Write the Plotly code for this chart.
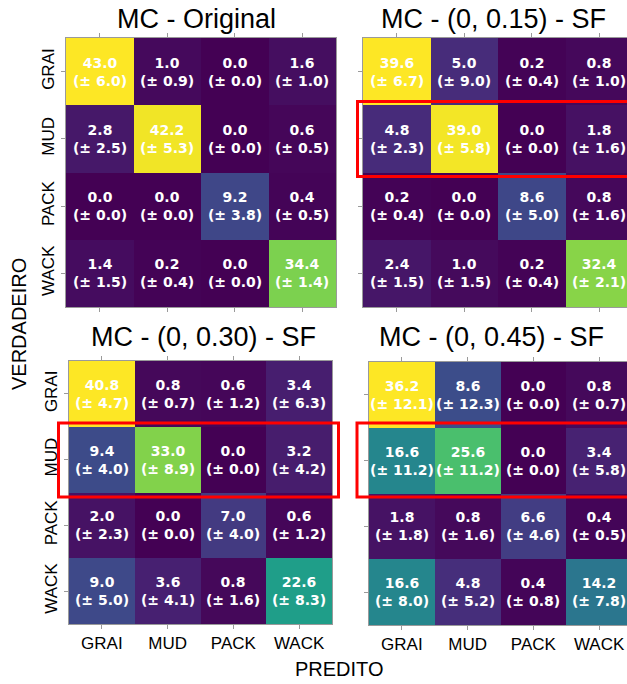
import plotly.graph_objects as go

categories = ["GRAI", "MUD", "PACK", "WACK"]

titles = ["MC - Original", "MC - (0, 0.15) - SF", "MC - (0, 0.30) - SF", "MC - (0, 0.45) - SF"]

orig_mean = [[43.0, 1.0, 0.0, 1.6], [2.8, 42.2, 0.0, 0.6], [0.0, 0.0, 9.2, 0.4], [1.4, 0.2, 0.0, 34.4]]
orig_std = [[6.0, 0.9, 0.0, 1.0], [2.5, 5.3, 0.0, 0.5], [0.0, 0.0, 3.8, 0.5], [1.5, 0.4, 0.0, 1.4]]

sf15_mean = [[39.6, 5.0, 0.2, 0.8], [4.8, 39.0, 0.0, 1.8], [0.2, 0.0, 8.6, 0.8], [2.4, 1.0, 0.2, 32.4]]
sf15_std = [[6.7, 9.0, 0.4, 1.0], [2.3, 5.8, 0.0, 1.6], [0.4, 0.0, 5.0, 1.6], [1.5, 1.5, 0.4, 2.1]]

sf30_mean = [[40.8, 0.8, 0.6, 3.4], [9.4, 33.0, 0.0, 3.2], [2.0, 0.0, 7.0, 0.6], [9.0, 3.6, 0.8, 22.6]]
sf30_std = [[4.7, 0.7, 1.2, 6.3], [4.0, 8.9, 0.0, 4.2], [2.3, 0.0, 4.0, 1.2], [5.0, 4.1, 1.6, 8.3]]

sf45_mean = [[36.2, 8.6, 0.0, 0.8], [16.6, 25.6, 0.0, 3.4], [1.8, 0.8, 6.6, 0.4], [16.6, 4.8, 0.4, 14.2]]
sf45_std = [[12.1, 12.3, 0.0, 0.7], [11.2, 11.2, 0.0, 5.8], [1.8, 1.6, 4.6, 0.5], [8.0, 5.2, 0.8, 7.8]]

W, H = 627, 684

def px_x(v):
    return v / W

def px_y(v):
    return 1 - v / H

# panel layout in pixels: (left, right_visible, full_right, top, bottom)
panels = [
    (66, 336, 336, 38, 307),
    (363, 627, 633, 38, 307),
    (69, 332, 332, 361, 624),
    (369, 627, 632, 362, 625),
]
title_pos = [(196, 19), (493, 19), (203, 337), (491, 337)]
data = [(orig_mean, orig_std), (sf15_mean, sf15_std), (sf30_mean, sf30_std), (sf45_mean, sf45_std)]

fig = go.Figure()
axis_line = "#9a9a9a"

for k, ((mean, std), (l, rv, rf, t, b)) in enumerate(zip(data, panels)):
    idx = "" if k == 0 else str(k + 1)
    text = [[f"{m:.1f}<br>(± {s:.1f})" for m, s in zip(rm, rs)] for rm, rs in zip(mean, std)]
    fig.add_trace(go.Heatmap(
        z=mean, x=categories, y=categories, text=text, texttemplate="%{text}",
        textfont=dict(family="DejaVu Sans", size=14, color="white", weight="bold"),
        colorscale="Viridis", showscale=False, xaxis="x" + idx, yaxis="y" + idx,
        xgap=0, ygap=0, hoverinfo="skip",
    ))
    x_end = -0.5 + 4 * (rv - l) / (rf - l)
    fig.update_layout(**{
        "xaxis" + idx: dict(
            domain=[px_x(l), px_x(rv)], range=[-0.5, x_end], anchor="y" + idx,
            showline=True, linecolor=axis_line, linewidth=1, mirror="ticks",
            ticks="outside", ticklen=4, tickcolor=axis_line, showgrid=False, zeroline=False,
            showticklabels=(k >= 2), tickfont=dict(family="Liberation Sans", size=17, color="black"),
            fixedrange=True,
        ),
        "yaxis" + idx: dict(
            domain=[px_y(b), px_y(t)], range=[3.5, -0.5], anchor="x" + idx,
            showline=True, linecolor=axis_line, linewidth=1, mirror=True,
            ticks="outside", ticklen=4, tickcolor=axis_line, showgrid=False, zeroline=False,
            showticklabels=(k % 2 == 0), tickangle=-90,
            tickfont=dict(family="Liberation Sans", size=17, color="black"),
            fixedrange=True,
        ),
    })
    tx, ty = title_pos[k]
    fig.add_annotation(text=titles[k], x=px_x(tx), y=px_y(ty), xref="paper", yref="paper",
                       xanchor="center", yanchor="middle", showarrow=False,
                       font=dict(family="Liberation Sans", size=27, color="black"))

# axis titles
fig.add_annotation(text="VERDADEIRO", x=px_x(19), y=px_y(324), xref="paper", yref="paper",
                   textangle=-90, xanchor="center", yanchor="middle", showarrow=False,
                   font=dict(family="Liberation Sans", size=20, color="black"))
fig.add_annotation(text="PREDITO", x=px_x(339), y=px_y(669), xref="paper", yref="paper",
                   xanchor="center", yanchor="middle", showarrow=False,
                   font=dict(family="Liberation Sans", size=20, color="black"))

# red highlight boxes around the MUD row
boxes = [(357.5, 660, 101.5, 176.5), (58.5, 338.5, 423, 497), (357, 660, 423, 497)]
for x0, x1, y0, y1 in boxes:
    fig.add_shape(type="rect", xref="paper", yref="paper",
                  x0=px_x(x0), x1=px_x(x1), y0=px_y(y1), y1=px_y(y0),
                  line=dict(color="red", width=3), fillcolor="rgba(0,0,0,0)", layer="above")

fig.update_layout(width=W, height=H, margin=dict(l=0, r=0, t=0, b=0),
                  paper_bgcolor="white", plot_bgcolor="white", showlegend=False)

fig.write_html("out.html", config={"displayModeBar": False},
               post_script="document.body.style.margin='0';document.body.style.overflow='hidden';")
